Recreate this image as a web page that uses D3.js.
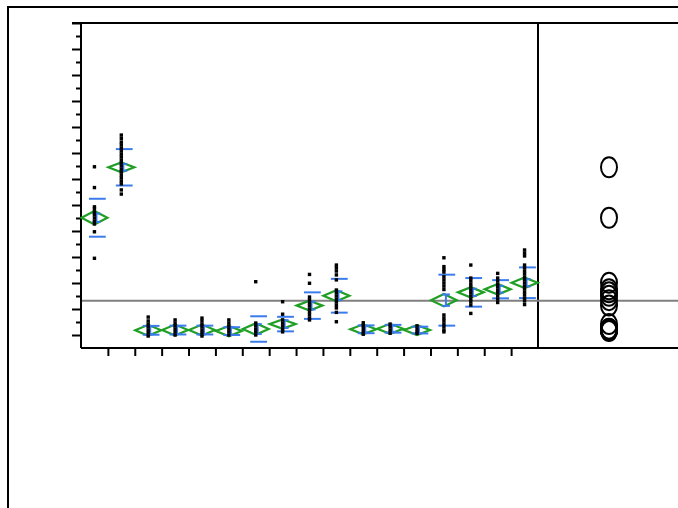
<!DOCTYPE html>
<html>
<head>
<meta charset="utf-8">
<script src="https://cdn.jsdelivr.net/npm/d3@7"></script>
<style>
  html, body { margin: 0; padding: 0; background: #fff; }
  svg { display: block; }
</style>
</head>
<body>
<svg id="chart" width="678" height="508"></svg>
<script>
// ---- data (units arbitrary, no axis labels shown) ----
const categories = ["1","2","3","4","5","6","7","8","9","10","11","12","13","14","15","16","17"];
const groupMeans = [45.1, 64.5, 1.8, 1.9, 1.9, 1.5, 2.3, 4.2, 11.3, 15.1, 2.2, 2.4, 1.9, 13.4, 16.4, 17.6, 20.1];
const groupCI    = [2.6, 1.9, 2.1, 2.1, 2.1, 2.0, 2.2, 1.8, 1.9, 2.1, 1.9, 1.9, 1.9, 2.4, 2.0, 2.0, 2.0];
const groupSE    = [1.6, 1.3, 1.5, 1.5, 1.5, 1.4, 1.9, 1.5, 1.5, 1.7, 1.2, 1.2, 1.2, 2.2, 1.4, 1.3, 1.4];
const groupSD    = [7.3, 7.0, 1.7, 1.7, 1.7, 1.5, 4.9, 2.8, 5.1, 6.5, 1.5, 1.5, 1.3, 9.8, 5.5, 3.5, 5.9];
const groupPoints = [
  [64.7, 56.7, 49.3, 48.5, 47.3, 46.2, 45.0, 43.8, 42.7, 39.7, 29.5],
  [76.9, 75.6, 74.2, 73.1, 71.9, 70.8, 69.6, 68.5, 67.3, 66.2, 65.0, 63.8, 62.7, 61.5, 60.4, 59.2, 58.1, 55.8, 54.2],
  [6.9, 5.4, 4.2, 3.1, 1.9, 0.8, -0.4],
  [5.8, 4.6, 3.5, 2.3, 1.2, 0.0],
  [6.5, 5.4, 4.2, 3.1, 1.9, 0.8, -0.4],
  [5.8, 4.6, 3.5, 2.3, 1.2, 0.0],
  [20.5, 4.6, 3.5, 2.3, 1.2, 0.0],
  [12.8, 8.0, 5.8, 4.6, 3.5, 2.3, 1.2],
  [23.3, 19.9, 14.6, 13.5, 12.3, 11.2, 10.0, 8.8, 7.7, 6.5, 5.8],
  [26.9, 25.8, 24.6, 23.1, 21.2, 17.3, 16.2, 15.0, 13.8, 12.7, 11.5, 10.4, 8.7, 5.1],
  [4.7, 3.7, 2.5, 1.3, 0.3],
  [4.2, 3.1, 1.9, 0.7],
  [3.5, 2.3, 1.2, 0.6],
  [29.7, 26.3, 25.2, 24.2, 22.4, 21.2, 20.0, 18.8, 17.5, 7.7, 6.5, 5.4, 4.2, 3.1, 1.9, 1.2],
  [26.9, 21.9, 20.8, 19.6, 18.5, 17.3, 16.2, 15.0, 13.8, 12.7, 11.5, 8.3],
  [23.7, 21.9, 20.8, 19.6, 18.5, 17.3, 16.2, 15.0, 13.8, 12.5],
  [32.7, 31.5, 30.4, 26.9, 25.8, 24.6, 23.5, 22.3, 21.2, 20.0, 18.8, 17.7, 16.5, 15.4, 14.2, 13.1, 11.7]
];
const grandMean = 13.2;
const yMajorTicks = [0, 10, 20, 30, 40, 50, 60, 70, 80, 90, 100, 110, 120];
const yMinorTicks = [5, 15, 25, 35, 45, 55, 65, 75, 85, 95, 105, 115];
const yDomain = [-5, 120];

// ---- layout ----
const svg = d3.select("#chart");
const plotL = 81, plotR = 538, plotT = 23, plotB = 348, panelR = 680;
const green = "#1f9f24", blue = "#3b7cec";

const y = d3.scaleLinear().domain(yDomain).range([plotB, plotT]);
const x = d3.scaleBand().domain(categories).range([plotL, plotR]).padding(0);
const xEdge = d3.scaleLinear().domain([0, categories.length]).range([plotL, plotR]);
const xPanel = d3.scaleLinear().domain([0, 1]).range([plotR, panelR]);
const bw = x.bandwidth();

// outer frame
svg.append("rect").attr("x", 8).attr("y", 7).attr("width", 700).attr("height", 520)
  .attr("fill", "none").attr("stroke", "#000").attr("stroke-width", 2);

// axes
const gy = svg.append("g").attr("transform", `translate(${plotL},0)`);
gy.call(d3.axisLeft(y).tickValues(yMajorTicks).tickSize(9).tickFormat(""));
gy.append("g").call(d3.axisLeft(y).tickValues(yMinorTicks).tickSize(5).tickFormat(""));
gy.selectAll(".domain").remove();
gy.selectAll("line").attr("stroke", "#000").attr("stroke-width", 2);

const gx = svg.append("g").attr("transform", `translate(0,${plotB})`);
gx.call(d3.axisBottom(xEdge).tickValues(d3.range(1, categories.length)).tickSize(8).tickFormat(""));
gx.selectAll(".domain").remove();
gx.selectAll("line").attr("stroke", "#000").attr("stroke-width", 2);

// frame lines of the plot
const frame = svg.append("g").attr("stroke", "#000").attr("stroke-width", 2);
frame.append("line").attr("x1", plotL - 9).attr("x2", panelR).attr("y1", plotT).attr("y2", plotT);
frame.append("line").attr("x1", plotL).attr("x2", panelR).attr("y1", plotB).attr("y2", plotB);
frame.append("line").attr("x1", plotL).attr("x2", plotL).attr("y1", plotT).attr("y2", plotB);
frame.append("line").attr("x1", plotR).attr("x2", plotR).attr("y1", plotT).attr("y2", plotB);

// grand mean line
svg.append("line").attr("x1", plotL + 1).attr("x2", panelR).attr("y1", y(grandMean)).attr("y2", y(grandMean))
  .attr("stroke", "#808080").attr("stroke-width", 2);

const groups = categories.map((c, i) => ({
  cat: c, mean: groupMeans[i], ci: groupCI[i], se: groupSE[i], sd: groupSD[i], pts: groupPoints[i]
}));

// means diamonds
const hw = bw / 2 - 0.5;
svg.append("g").selectAll("path").data(groups).join("path")
  .attr("d", d => {
    const cx = x(d.cat) + bw / 2;
    return `M${cx - hw},${y(d.mean)} L${cx},${y(d.mean + d.ci)} L${cx + hw},${y(d.mean)} L${cx},${y(d.mean - d.ci)} Z`;
  })
  .attr("fill", "none").attr("stroke", green).attr("stroke-width", 2.2);

// error bars and std dev lines
const gb = svg.append("g").attr("stroke", blue).attr("stroke-width", 2);
groups.forEach(d => {
  const cx = x(d.cat) + bw / 2;
  gb.append("line").attr("x1", cx + 2).attr("x2", cx + 2).attr("y1", y(d.mean - d.se)).attr("y2", y(d.mean + d.se));
  [d.mean - d.se, d.mean + d.se].forEach(v => {
    gb.append("line").attr("x1", cx - 2).attr("x2", cx + 6).attr("y1", y(v)).attr("y2", y(v));
  });
  [d.mean - d.sd, d.mean + d.sd].forEach(v => {
    gb.append("line").attr("x1", cx - 5.5).attr("x2", cx + 11.3).attr("y1", y(v)).attr("y2", y(v));
  });
});

// points
const gp = svg.append("g").attr("fill", "#000");
groups.forEach(d => {
  const cx = x(d.cat) + bw / 2;
  gp.selectAll(null).data(d.pts).join("rect")
    .attr("x", cx - 1.7).attr("y", v => y(v) - 1.7).attr("width", 3.4).attr("height", 3.4);
});

// comparison circles
svg.append("g").selectAll("ellipse").data(groups).join("ellipse")
  .attr("cx", xPanel(0.5)).attr("cy", d => y(d.mean))
  .attr("rx", 8).attr("ry", 10)
  .attr("fill", "none").attr("stroke", "#000").attr("stroke-width", 2);
</script>
</body>
</html>
